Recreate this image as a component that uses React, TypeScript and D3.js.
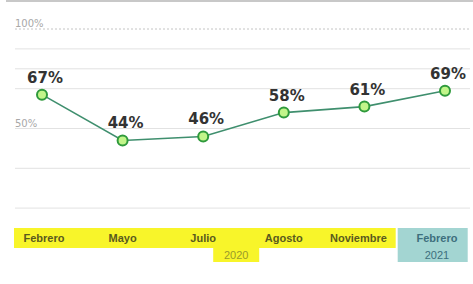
import React, { useEffect, useRef } from "react";
import * as d3 from "d3";

const months = ["Febrero", "Mayo", "Julio", "Agosto", "Noviembre", "Febrero "];
const values = [67, 44, 46, 58, 61, 69];
const gridValues = [100, 90, 80, 70, 50, 30, 10];
const yTickLabels = [
  { v: 100, label: "100%" },
  { v: 50, label: "50%" },
];
const years = [
  { label: "2020", from: 0, to: 4 },
  { label: "2021", from: 5, to: 5 },
];

const App: React.FC = () => {
  const svgRef = useRef<SVGSVGElement>(null);

  useEffect(() => {
    const svg = d3.select(svgRef.current);
    svg.selectAll("*").remove();

    const width = 473;

    const x = d3.scalePoint<string>().domain(months).range([42, 445]);
    const y = d3.scaleLinear().domain([0, 100]).range([228, 29]);

    // top border
    svg
      .append("line")
      .attr("x1", 6)
      .attr("x2", width)
      .attr("y1", 1)
      .attr("y2", 1)
      .attr("stroke", "#c8c8c8")
      .attr("stroke-width", 2);

    // gridlines
    svg
      .selectAll(".grid")
      .data(gridValues)
      .enter()
      .append("line")
      .attr("x1", 15)
      .attr("x2", 470)
      .attr("y1", (d) => y(d))
      .attr("y2", (d) => y(d))
      .attr("stroke", (d) => (d === 100 ? "#c4c4c4" : "#e2e2e2"))
      .attr("stroke-dasharray", (d) => (d === 100 ? "2,2" : null))
      .attr("stroke-width", 1);

    svg
      .selectAll(".ylab")
      .data(yTickLabels)
      .enter()
      .append("text")
      .attr("x", 15)
      .attr("y", (d) => y(d.v) - 2)
      .attr("font-family", "DejaVu Sans, sans-serif")
      .attr("font-size", 10)
      .attr("fill", "#a8a8a8")
      .text((d) => d.label);

    // label band
    const step = x.step();
    const left = 14;
    const yellowEnd = (x(months[4]) as number) + step / 2 - 9;
    svg
      .append("rect")
      .attr("x", left)
      .attr("y", y(0))
      .attr("width", yellowEnd - left)
      .attr("height", 20)
      .attr("fill", "#f8f52a");

    svg
      .append("rect")
      .attr("x", yellowEnd + 2)
      .attr("y", y(0))
      .attr("width", 70)
      .attr("height", 34)
      .attr("fill", "#a3d5d2");

    // year boxes
    const y2020 = years[0];
    const c2020 =
      ((x(months[y2020.from]) as number) + (x(months[y2020.to]) as number)) / 2 + 33;
    svg
      .append("rect")
      .attr("x", c2020 - 23)
      .attr("y", y(0) + 20)
      .attr("width", 46)
      .attr("height", 14)
      .attr("fill", "#f8f52a");

    svg
      .selectAll(".month")
      .data(months)
      .enter()
      .append("text")
      .attr("x", (d, i) => (x(d) as number) + (i === 0 ? 2 : i === 4 ? -6 : i === 5 ? -8 : 0))
      .attr("y", y(0) + 14)
      .attr("text-anchor", "middle")
      .attr("font-family", "Liberation Sans Narrow, Liberation Sans, sans-serif")
      .attr("font-weight", "bold")
      .attr("font-size", 11)
      .attr("fill", (d, i) => (i === 5 ? "#3d6f7d" : "#5a5a1e"))
      .text((d) => d.trim());

    svg
      .append("text")
      .attr("x", c2020)
      .attr("y", y(0) + 31)
      .attr("text-anchor", "middle")
      .attr("font-family", "Liberation Sans, sans-serif")
      .attr("font-size", 11)
      .attr("fill", "#9a9a2a")
      .text(years[0].label);

    svg
      .append("text")
      .attr("x", (x(months[5]) as number) - 8)
      .attr("y", y(0) + 31)
      .attr("text-anchor", "middle")
      .attr("font-family", "Liberation Sans, sans-serif")
      .attr("font-size", 11)
      .attr("fill", "#3d6f7d")
      .text(years[1].label);

    // line
    const data = months.map((m, i) => ({ m, v: values[i] }));
    const line = d3
      .line<{ m: string; v: number }>()
      .x((d) => x(d.m) as number)
      .y((d) => y(d.v));

    svg
      .append("path")
      .datum(data)
      .attr("d", line)
      .attr("fill", "none")
      .attr("stroke", "#3f8f6e")
      .attr("stroke-width", 1.6);

    svg
      .selectAll(".pt")
      .data(data)
      .enter()
      .append("circle")
      .attr("cx", (d) => x(d.m) as number)
      .attr("cy", (d) => y(d.v))
      .attr("r", 5)
      .attr("fill", "#c2f58a")
      .attr("stroke", "#2f9a3c")
      .attr("stroke-width", 2);

    svg
      .selectAll(".val")
      .data(data)
      .enter()
      .append("text")
      .attr("x", (d) => (x(d.m) as number) + 3)
      .attr("y", (d) => y(d.v) - 12)
      .attr("text-anchor", "middle")
      .attr("font-family", "DejaVu Sans, sans-serif")
      .attr("font-weight", "bold")
      .attr("font-size", 15)
      .attr("fill", "#333")
      .text((d) => `${d.v}%`);
  }, []);

  return (
    <svg
      ref={svgRef}
      width={473}
      height={284}
      style={{ position: "absolute", left: 0, top: 0, background: "#fff" }}
    />
  );
};

export default App;
